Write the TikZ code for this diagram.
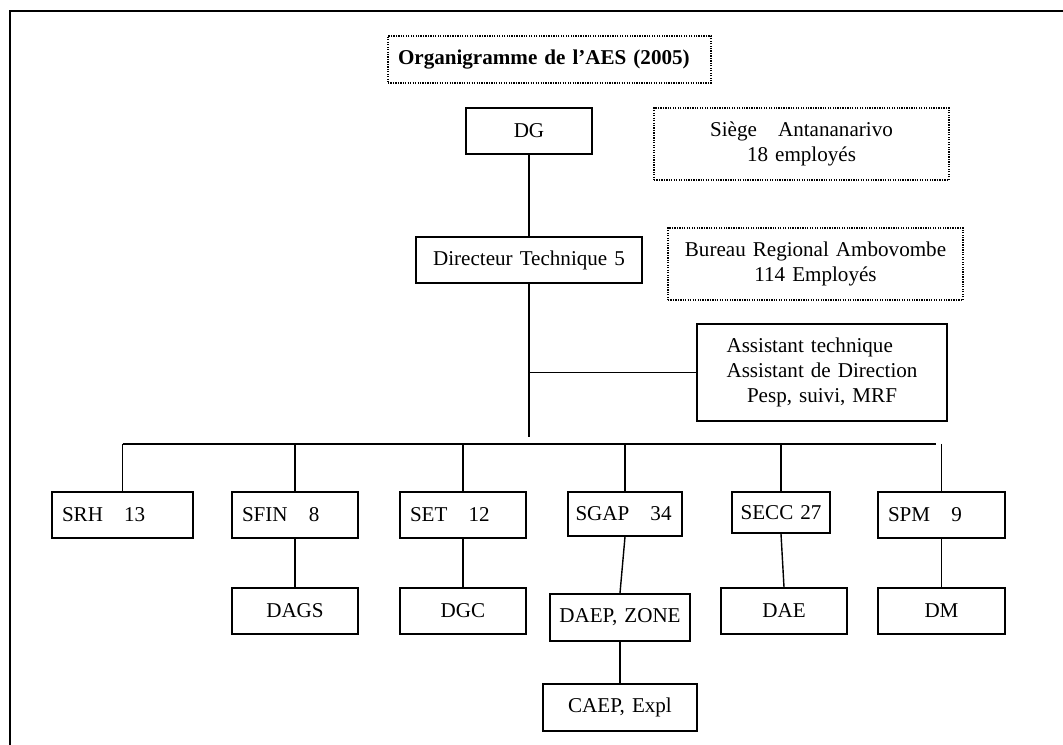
\documentclass[tikz,border=0pt]{standalone}
\usepackage{fontspec}
\setmainfont{Liberation Serif}
\usetikzlibrary{positioning}

\begin{document}
\begin{tikzpicture}[font=\fontsize{12}{14.4}\selectfont,
    unit/.style={rectangle, draw, line width=1pt, inner xsep=0.2cm, inner ysep=0pt},
    note/.style={rectangle, draw, line width=1pt, dash pattern=on 0.7pt off 0.7pt,
                 inner xsep=0.2cm, inner ysep=0pt},
    link/.style={line width=0.8pt}]
  \useasboundingbox (0,0) rectangle (21.26,-14.90);
  % page frame, top and left edges only
  \draw[line width=1.1pt] (0.20,-14.90) -- (0.20,-0.22) -- (21.26,-0.22);

  % heading and site notes
  \node[note, text width=6.06cm, minimum height=0.94cm, align=left] (title) at (10.99,-1.19)
       {\textbf{Organigramme de l’AES (2005)}};
  \node[note, text width=5.50cm, minimum height=1.44cm, align=center] (siege) at (16.03,-2.88)
       {Siège\quad Antananarivo\\18 employés};
  \node[note, text width=5.50cm, minimum height=1.44cm, align=center] (bureau) at (16.31,-5.28)
       {Bureau Regional Ambovombe\\114 Employés};

  % direction
  \node[unit, text width=2.12cm, minimum height=0.92cm, align=center] (dg) at (10.58,-2.62) {DG};
  \node[unit, text width=4.12cm, minimum height=0.92cm, align=center] (dir) at (10.58,-5.20)
       {Directeur Technique 5};
  \node[unit, text width=4.60cm, minimum height=1.94cm, align=center] (ast) at (16.44,-7.45)
       {\rlap{Assistant technique}\phantom{Assistant de Direction}\\Assistant de Direction\\Pesp, suivi, MRF};

  % services
  \node[unit, text width=2.42cm, minimum height=0.92cm, align=left] (srh) at (2.45,-10.30) {SRH\quad 13};
  \node[unit, text width=2.12cm, minimum height=0.92cm, align=left] (sfin) at (5.90,-10.30) {SFIN\quad 8};
  \node[unit, text width=2.12cm, minimum height=0.92cm, align=left] (set) at (9.26,-10.30) {SET\quad 12};
  \node[unit, inner xsep=0.15cm, text width=1.98cm, minimum height=0.88cm, align=left] (sgap) at (12.50,-10.28) {SGAP\quad 34};
  \node[unit, inner xsep=0.1cm, text width=1.76cm, minimum height=0.82cm, align=center] (secc) at (15.62,-10.25) {SECC 27};
  \node[unit, text width=2.14cm, minimum height=0.92cm, align=left] (spm) at (18.83,-10.30) {SPM\quad 9};

  % divisions
  \node[unit, text width=2.12cm, minimum height=0.92cm, align=center] (dags) at (5.90,-12.22) {DAGS};
  \node[unit, text width=2.12cm, minimum height=0.92cm, align=center] (dgc) at (9.26,-12.22) {DGC};
  \node[unit, inner xsep=0.1cm, text width=2.60cm, minimum height=0.94cm, align=center] (daep) at (12.40,-12.35) {DAEP, ZONE};
  \node[unit, text width=2.12cm, minimum height=0.92cm, align=center] (dae) at (15.68,-12.22) {DAE};
  \node[unit, text width=2.14cm, minimum height=0.92cm, align=center] (dm) at (18.83,-12.22) {DM};
  \node[unit, text width=2.68cm, minimum height=0.94cm, align=center] (caep) at (12.40,-14.15) {CAEP, Expl};

  % trunk and bus
  \coordinate (trunk) at (10.58,-8.74);
  \coordinate (busL) at (2.45,-8.88);
  \coordinate (busR) at (18.72,-8.88);
  \draw[link] (dg.south) -- (dir.north);
  \draw[link] (dir.south) -- (trunk);
  \draw[link] (dir.south |- ast.west) -- (ast.west);
  \draw[link] (busL) -- (busR);
  \foreach \s in {srh,sfin,set,sgap,secc,spm}
    \draw[link] (\s.north |- busL) -- (\s.north);
  \foreach \a/\b in {sfin/dags, set/dgc, sgap/daep, secc/dae, spm/dm, daep/caep}
    \draw[link] (\a.south) -- (\b.north);
\end{tikzpicture}
\end{document}
